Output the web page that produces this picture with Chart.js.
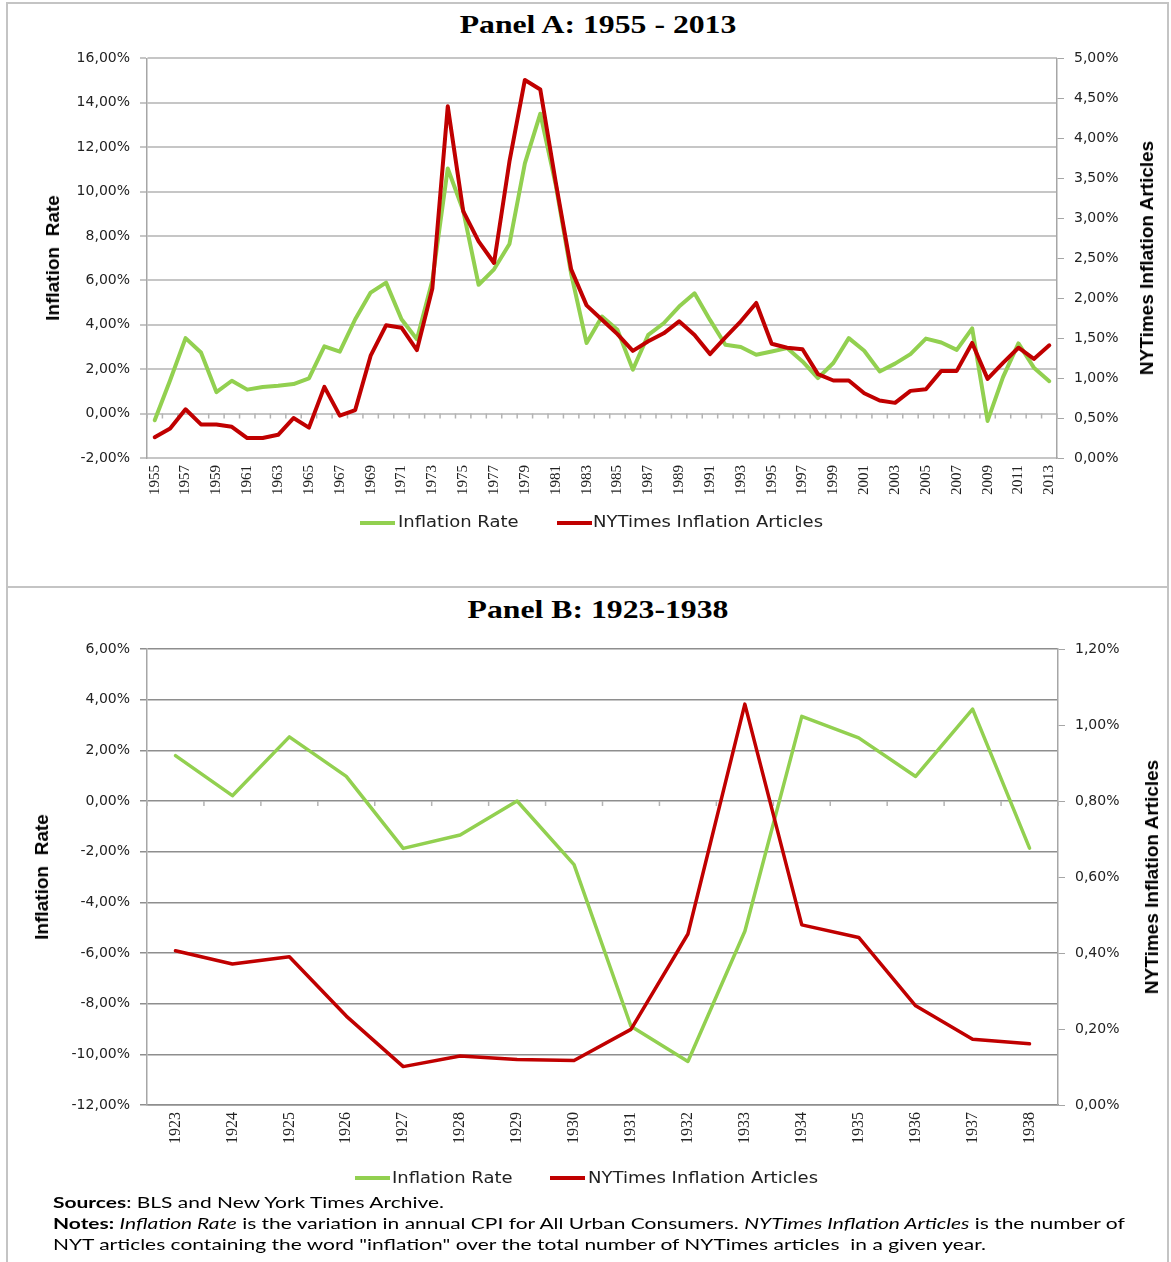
<!DOCTYPE html>
<html>
<head>
<meta charset="utf-8">
<script src="https://cdn.jsdelivr.net/npm/chart.js@4.4.0/dist/chart.umd.min.js"></script>
<style>
  body { margin: 0; background: #fff; width: 1171px; height: 1262px; position: relative; overflow: hidden; }
  .frame { position: absolute; border: 2px solid #c4c4c4; box-sizing: border-box; }
  .title { position: absolute; width: 400px; left: 398px; text-align: center; font: bold 26px 'Liberation Serif', serif; color: #000;
           transform: scaleX(1.22); transform-origin: center top; }
  .ytitle { position: absolute; transform: translate(-50%, -50%) rotate(-90deg); white-space: nowrap;
            font: bold 19px 'Liberation Sans Narrow', 'Liberation Sans', sans-serif; color: #000; }
  canvas { position: absolute; left: 0; }
  .sw { position: absolute; width: 35px; height: 4px; }
  .lt { position: absolute; font: 15px 'DejaVu Sans', sans-serif; line-height: 18px; color: #222; white-space: nowrap;
        transform: scaleX(1.2); transform-origin: left top; }
  .notes { position: absolute; left: 53px; top: 1191px; font: 16px Lato, sans-serif; color: #000;
           line-height: 21px; transform: scaleX(1.31); transform-origin: left top; white-space: nowrap; }
</style>
</head>
<body>
<div class="frame" style="left:6px; top:2px; width:1163px; height:586px;"></div>
<div class="frame" style="left:6px; top:586px; width:1163px; height:690px;"></div>

<div class="title" style="top:10px;">Panel A: 1955 - 2013</div>
<div class="title" style="top:595px;">Panel B: 1923-1938</div>

<canvas id="chartA" width="1171" height="546" style="top:40px;"></canvas>
<canvas id="chartB" width="1171" height="575" style="top:630px;"></canvas>

<div class="ytitle" style="left:53px; top:258px;">Inflation&nbsp; Rate</div>
<div class="ytitle" style="left:1147px; top:258px;">NYTimes Inflation Articles</div>
<div class="ytitle" style="left:42px; top:877px;">Inflation&nbsp; Rate</div>
<div class="ytitle" style="left:1152px; top:877px;">NYTimes Inflation Articles</div>

<!-- legends -->
<div class="sw" style="left:360px; top:521px; background:#92d050;"></div>
<div class="lt" style="left:398px; top:513px;">Inflation Rate</div>
<div class="sw" style="left:557px; top:521px; background:#c00000;"></div>
<div class="lt" style="left:593px; top:513px;">NYTimes Inflation Articles</div>

<div class="sw" style="left:355px; top:1176px; background:#92d050;"></div>
<div class="lt" style="left:392px; top:1169px;">Inflation Rate</div>
<div class="sw" style="left:550px; top:1176px; background:#c00000;"></div>
<div class="lt" style="left:588px; top:1169px;">NYTimes Inflation Articles</div>

<div class="notes">
  <div><b>Sources</b>: BLS and New York Times Archive.</div>
  <div><b>Notes:</b> <i>Inflation Rate</i> is the variation in annual CPI for All Urban Consumers. <i>NYTimes Inflation Articles</i> is the number of</div>
  <div>NYT articles containing the word "inflation" over the total number of NYTimes articles&nbsp; in a given year.</div>
</div>

<script>
// Panel A data (percent)
const yearsA = ['1955', '1956', '1957', '1958', '1959', '1960', '1961', '1962', '1963', '1964',
    '1965', '1966', '1967', '1968', '1969', '1970', '1971', '1972', '1973', '1974',
    '1975', '1976', '1977', '1978', '1979', '1980', '1981', '1982', '1983', '1984',
    '1985', '1986', '1987', '1988', '1989', '1990', '1991', '1992', '1993', '1994',
    '1995', '1996', '1997', '1998', '1999', '2000', '2001', '2002', '2003', '2004',
    '2005', '2006', '2007', '2008', '2009', '2010', '2011', '2012', '2013'];
const inflationA = [-0.3, 1.5, 3.4, 2.75, 0.97, 1.48, 1.08, 1.2, 1.25, 1.33,
    1.59, 3.03, 2.79, 4.25, 5.45, 5.9, 4.25, 3.35, 6.0, 11.04,
    9.15, 5.8, 6.5, 7.64, 11.27, 13.51, 10.3, 6.3, 3.18, 4.37,
    3.78, 1.98, 3.55, 4.07, 4.82, 5.42, 4.22, 3.1, 3.0, 2.65,
    2.8, 2.95, 2.35, 1.6, 2.28, 3.4, 2.83, 1.9, 2.25, 2.68,
    3.38, 3.2, 2.87, 3.84, -0.33, 1.64, 3.16, 2.07, 1.46];
const articlesA = [0.26, 0.37, 0.61, 0.42, 0.42, 0.39, 0.25, 0.25, 0.29, 0.50,
    0.38, 0.89, 0.53, 0.60, 1.28, 1.66, 1.63, 1.35, 2.12, 4.40,
    3.09, 2.71, 2.44, 3.71, 4.73, 4.61, 3.45, 2.36, 1.91, 1.73,
    1.55, 1.34, 1.46, 1.56, 1.71, 1.54, 1.30, 1.51, 1.71, 1.94,
    1.43, 1.38, 1.36, 1.05, 0.97, 0.97, 0.81, 0.72, 0.69, 0.84,
    0.86, 1.09, 1.09, 1.44, 0.99, 1.19, 1.38, 1.24, 1.41];

// Panel B data (percent)
const yearsB = ['1923', '1924', '1925', '1926', '1927', '1928', '1929', '1930',
    '1931', '1932', '1933', '1934', '1935', '1936', '1937', '1938'];
const inflationB = [1.79, 0.21, 2.53, 0.97, -1.87, -1.34, 0.0, -2.51,
    -8.89, -10.28, -5.14, 3.34, 2.49, 0.97, 3.63, -1.86];
const articlesB = [0.406, 0.371, 0.390, 0.234, 0.101, 0.129, 0.120, 0.117,
    0.199, 0.450, 1.055, 0.474, 0.441, 0.261, 0.173, 0.161];

const green = '#92d050';
const red = '#c00000';

function pct(v) {
    return Number(v).toFixed(2).replace('.', ',') + '%';
}

// small tick marks along the 0% line, at the category boundaries
const zeroTicks = {
    id: 'zeroTicks',
    beforeDatasetsDraw(chart) {
        const xs = chart.scales.x;
        const y0 = chart.scales.y.getPixelForValue(0);
        const ctx = chart.ctx;
        ctx.save();
        ctx.strokeStyle = '#b4b4b4';
        ctx.lineWidth = 1.5;
        ctx.beginPath();
        for (let i = 0; i <= xs.ticks.length; i++) {
            const px = xs.getPixelForValue(i - 0.5);
            ctx.moveTo(px, y0);
            ctx.lineTo(px, y0 + 5);
        }
        ctx.stroke();
        ctx.restore();
    }
};

function makeChart(id, opt) {
    return new Chart(document.getElementById(id), {
        type: 'line',
        data: {
            labels: opt.labels,
            datasets: [{
                label: 'Inflation Rate',
                data: opt.inflation,
                borderColor: green,
                backgroundColor: green,
                borderWidth: opt.lineWidth,
                yAxisID: 'y',
                order: 1
            }, {
                label: 'NYTimes Inflation Articles',
                data: opt.articles,
                borderColor: red,
                backgroundColor: red,
                borderWidth: opt.lineWidth,
                yAxisID: 'y1',
                order: 0
            }]
        },
        options: {
            responsive: false,
            animation: false,
            layout: { padding: { left: 24, right: 0, top: opt.padTop, bottom: opt.padBottom } },
            elements: {
                point: { radius: 0 },
                line: { tension: 0, borderJoinStyle: 'round', borderCapStyle: 'round' }
            },
            plugins: {
                legend: { display: false },
                tooltip: { enabled: false }
            },
            scales: {
                x: {
                    offset: true,
                    grid: { display: false, drawTicks: false, offset: true },
                    border: { display: true, color: opt.gridColor, width: 1.5 },
                    afterFit: s => { s.height = 42; },
                    ticks: {
                        autoSkip: false,
                        minRotation: 90,
                        maxRotation: 90,
                        padding: 7,
                        color: '#222',
                        font: { family: 'Liberation Sans Narrow', size: opt.xFont },
                        callback: function (v, i) {
                            return i % opt.every === 0 ? this.getLabelForValue(v) : '';
                        }
                    }
                },
                y: {
                    position: 'left',
                    min: opt.yMin, max: opt.yMax,
                    afterFit: s => { s.width = 123; },
                    grid: { color: opt.gridColor, lineWidth: opt.gridWidth, tickLength: 7 },
                    border: { color: '#a6a6a6', width: 1.5 },
                    ticks: {
                        stepSize: opt.yStep,
                        padding: 10,
                        color: '#222',
                        font: { family: 'DejaVu Sans', size: 14 },
                        callback: v => pct(v)
                    }
                },
                y1: {
                    position: 'right',
                    min: opt.y1Min, max: opt.y1Max,
                    afterFit: s => { s.width = opt.rightWidth; },
                    grid: { drawOnChartArea: false, color: '#a6a6a6', tickLength: 7 },
                    border: { color: '#a6a6a6', width: 1.5 },
                    ticks: {
                        stepSize: opt.y1Step,
                        padding: 10,
                        color: '#222',
                        font: { family: 'DejaVu Sans', size: 14 },
                        callback: v => pct(v)
                    }
                }
            }
        },
        plugins: [zeroTicks]
    });
}

makeChart('chartA', {
    labels: yearsA, inflation: inflationA, articles: articlesA,
    lineWidth: 4, every: 2, xFont: 15,
    padTop: 17, padBottom: 86, rightWidth: 114,
    gridColor: '#c6c6c6', gridWidth: 2,
    yMin: -2, yMax: 16, yStep: 2, y1Min: 0, y1Max: 5, y1Step: 0.5
});

makeChart('chartB', {
    labels: yearsB, inflation: inflationB, articles: articlesB,
    lineWidth: 3.5, every: 1, xFont: 16,
    padTop: 19, padBottom: 58, rightWidth: 113,
    gridColor: '#8e8e8e', gridWidth: 1.5,
    yMin: -12, yMax: 6, yStep: 2, y1Min: 0, y1Max: 1.2, y1Step: 0.2
});
</script>
</body>
</html>
